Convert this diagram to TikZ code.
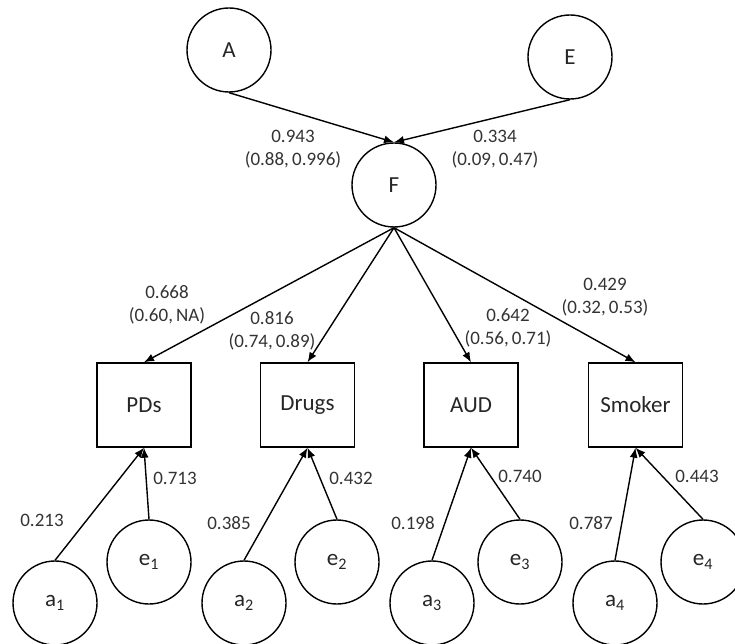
\documentclass[tikz,border=0pt]{standalone}
\usepackage{fontspec}
\setmainfont{Carlito}
\usetikzlibrary{arrows.meta}
\tikzset{
  latent/.style={draw,circle,minimum size=84pt,inner sep=0pt,line width=1.4pt,text=black!85,font=\fontsize{23}{27}\selectfont},
  manifest/.style={draw,rectangle,minimum width=94pt,minimum height=84pt,inner sep=0pt,line width=1.4pt,text=black!85,font=\fontsize{23}{27}\selectfont},
  loading/.style={-{Latex[length=10pt,width=8pt]},line width=1.4pt},
  est/.style={align=center,inner sep=0pt,text=black!80,font=\fontsize{19}{23}\selectfont}
}
\begin{document}
\begin{tikzpicture}[x=1pt,y=-1pt]
\clip (0,0) rectangle (735,644);
% latent factors
\node[latent] (A) at (229,50) {A}; \node[latent] (E) at (570,57) {E};
\node[latent] (F) at (394,185) {F};
\draw[loading] (A.south)--(F.north); \draw[loading] (E.south)--(F.north);
\node[est] (lA) at (293,149) {0.943\\(0.88,\,0.996)};
\node[est] (lE) at (495,149) {0.334\\(0.09,\,0.47)};
% observed measures
\node[manifest] (PDs) at (144,405) {PDs}; \node[manifest] (Drugs) at (307.5,405) {Drugs};
\node[manifest] (AUD) at (471,405) {AUD}; \node[manifest] (Smoker) at (635.5,405) {Smoker};
\draw[loading] (F.south)--(PDs.north); \draw[loading] (F.south)--(Drugs.north);
\draw[loading] (F.south)--(AUD.north); \draw[loading] (F.south)--(Smoker.north);
\node[est] (lPDs) at (167,305) {0.668\\(0.60,\,NA)};
\node[est] (lDrugs) at (272,331) {0.816\\(0.74,\,0.89)};
\node[est] (lAUD) at (508,328) {0.642\\(0.56,\,0.71)};
\node[est] (lSmoker) at (605,297) {0.429\\(0.32,\,0.53)};
% residual a and e
\node[latent] (a1) at (55,603) {a\textsubscript{1}}; \node[latent] (e1) at (149,562) {e\textsubscript{1}};
\node[latent] (a2) at (244,603) {a\textsubscript{2}}; \node[latent] (e2) at (337,562) {e\textsubscript{2}};
\node[latent] (a3) at (432,603) {a\textsubscript{3}}; \node[latent] (e3) at (520,562) {e\textsubscript{3}};
\node[latent] (a4) at (615,603) {a\textsubscript{4}}; \node[latent] (e4) at (703,562) {e\textsubscript{4}};
\draw[loading] (a1.north)--(PDs.south); \draw[loading] (e1.north)--(PDs.south);
\draw[loading] (a2.north)--(Drugs.south); \draw[loading] (e2.north)--(Drugs.south);
\draw[loading] (a3.north)--(AUD.south); \draw[loading] (e3.north)--(AUD.south);
\draw[loading] (a4.north)--(Smoker.south); \draw[loading] (e4.north)--(Smoker.south);
\node[est] (la1) at (42,520) {0.213}; \node[est] (le1) at (175,478) {0.713};
\node[est] (la2) at (229,523) {0.385}; \node[est] (le2) at (351,478) {0.432};
\node[est] (la3) at (413,523) {0.198}; \node[est] (le3) at (520,476) {0.740};
\node[est] (la4) at (591,523) {0.787}; \node[est] (le4) at (697,476) {0.443};
\end{tikzpicture}
\end{document}
